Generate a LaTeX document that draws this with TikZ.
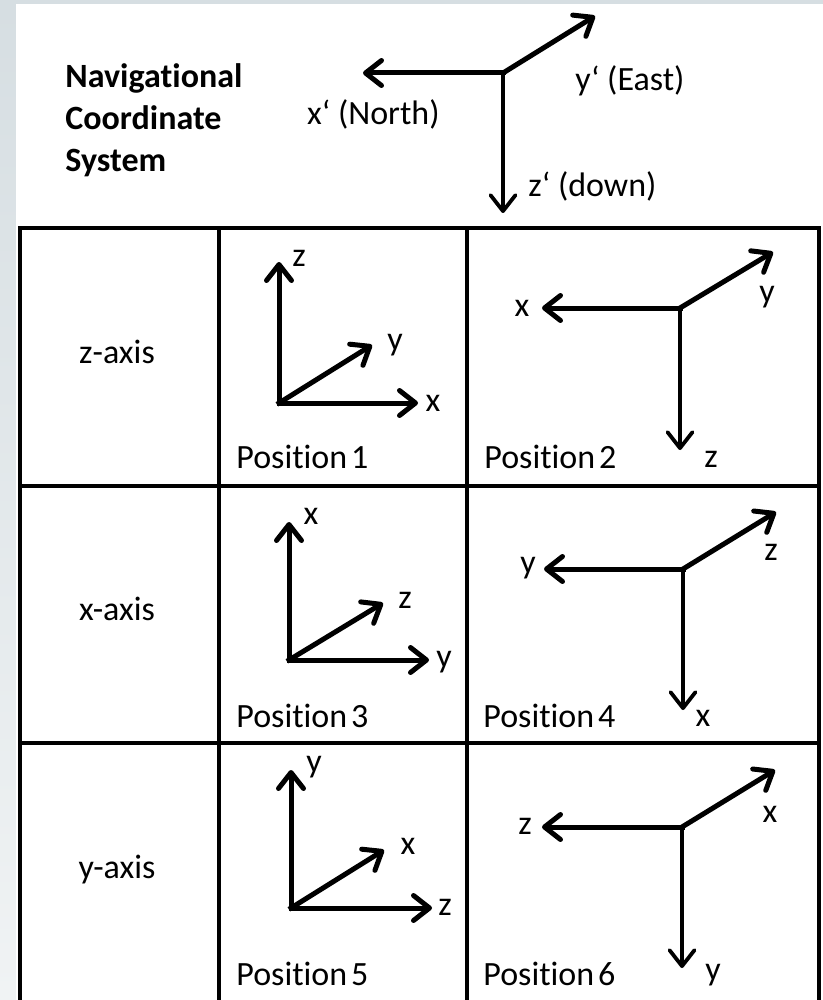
\documentclass[tikz,border=0pt]{standalone}
\usepackage{fontspec}
\setmainfont{Carlito}[Ligatures={NoCommon}]
\usetikzlibrary{arrows.meta}
\definecolor{bgtop}{RGB}{214,222,226}
\definecolor{bgbot}{RGB}{240,243,244}
\begin{document}
\begin{tikzpicture}[x=0.5pt,y=-0.5pt,
  ax/.style={line width=2.5pt, line cap=rect, -{Straight Barb[length=8pt,width=12.5pt,round]}},
  axd/.style={ax, line width=1.9pt},
  lbl/.style={font=\fontsize{17}{20}\selectfont, inner sep=0pt},
  hdr/.style={font=\bfseries\fontsize{17}{20}\selectfont, inner sep=0pt, anchor=base west},
  gridline/.style={line width=1.8pt}]
\useasboundingbox (0,0) rectangle (823,1000);
\shade[top color=bgtop, bottom color=bgbot] (0,0) rectangle (823,1000);
\fill[white] (16,4) rectangle (823,1000);

% header text
\node[hdr] (nav1) at (65,88) {Navigational};
\node[hdr] (nav2) at (65,130) {Coordinate};
\node[hdr] (nav3) at (65,172) {System};

% navigational frame
\coordinate (O) at (503,73);
\coordinate (Nx) at (363,73);
\coordinate (Ny) at (595,16);
\coordinate (Nz) at (503,213);
\draw[ax] (O) -- (Nx);
\draw[ax] (O) -- (Ny);
\draw[axd] (O) -- (Nz);
\node[lbl, anchor=base east] (lNx) at (440,125) {x‘ (North)};
\node[lbl, anchor=base west] (lNy) at (575,91) {y‘ (East)};
\node[lbl, anchor=base west] (lNz) at (528,197) {z‘ (down)};

% table
\draw[gridline] (20,1002) -- (20,228) -- (819,228) -- (819,1002);
\draw[gridline] (20,486) -- (819,486);
\draw[gridline] (20,743) -- (819,743);
\draw[gridline, line width=2pt] (219,228) -- (219,1002);
\draw[gridline, line width=2pt] (467,228) -- (467,1002);

% row labels
\node[lbl, anchor=base] (r1) at (117,363) {z-axis};
\node[lbl, anchor=base] (r2) at (117,620) {x-axis};
\node[lbl, anchor=base] (r3) at (117,878) {y-axis};

% position labels
\node[lbl, anchor=base west] (p1) at (236,468) {Position\kern2pt 1};
\node[lbl, anchor=base west] (p2) at (484,468) {Position\kern2pt 2};
\node[lbl, anchor=base west] (p3) at (236,727) {Position\kern2pt 3};
\node[lbl, anchor=base west] (p4) at (483,727) {Position\kern2pt 4};
\node[lbl, anchor=base west] (p5) at (236,985) {Position\kern2pt 5};
\node[lbl, anchor=base west] (p6) at (483,985) {Position\kern2pt 6};

% Position 1
\coordinate (O1) at (279,403);
\coordinate (A1u) at (279,262);
\coordinate (A1r) at (418,403);
\coordinate (A1d) at (372,345);
\draw[ax] (O1) -- (A1u);
\draw[ax] (O1) -- (A1r);
\draw[ax] (O1) -- (A1d);
\node[lbl] (l1z) at (299,258) {z};
\node[lbl] (l1y) at (395,345) {y};
\node[lbl] (l1x) at (433,403) {x};

% Position 2
\coordinate (O2) at (680,308);
\coordinate (A2l) at (542,308);
\coordinate (A2d) at (773,252);
\coordinate (A2v) at (680,450);
\draw[ax] (O2) -- (A2l);
\draw[ax] (O2) -- (A2d);
\draw[axd] (O2) -- (A2v);
\node[lbl] (l2x) at (522,308) {x};
\node[lbl] (l2y) at (767,297) {y};
\node[lbl] (l2z) at (711,459) {z};

% Position 3
\coordinate (O3) at (289,660);
\coordinate (A3u) at (289,522);
\coordinate (A3r) at (429,660);
\coordinate (A3d) at (383,603);
\draw[ax] (O3) -- (A3u);
\draw[ax] (O3) -- (A3r);
\draw[ax] (O3) -- (A3d);
\node[lbl] (l3x) at (311,516) {x};
\node[lbl] (l3z) at (405,600) {z};
\node[lbl] (l3y) at (444,662) {y};

% Position 4
\coordinate (O4) at (683,569);
\coordinate (A4l) at (544,569);
\coordinate (A4d) at (776,512);
\coordinate (A4v) at (683,710);
\draw[ax] (O4) -- (A4l);
\draw[ax] (O4) -- (A4d);
\draw[axd] (O4) -- (A4v);
\node[lbl] (l4y) at (528,568) {y};
\node[lbl] (l4z) at (771,552) {z};
\node[lbl] (l4x) at (703,718) {x};

% Position 5
\coordinate (O5) at (291,908);
\coordinate (A5u) at (291,770);
\coordinate (A5r) at (432,908);
\coordinate (A5d) at (384,850);
\draw[ax] (O5) -- (A5u);
\draw[ax] (O5) -- (A5r);
\draw[ax] (O5) -- (A5d);
\node[lbl] (l5y) at (314,767) {y};
\node[lbl] (l5x) at (408,846) {x};
\node[lbl] (l5z) at (445,907) {z};

% Position 6
\coordinate (O6) at (682,827);
\coordinate (A6l) at (542,827);
\coordinate (A6d) at (775,770);
\coordinate (A6v) at (682,968);
\draw[ax] (O6) -- (A6l);
\draw[ax] (O6) -- (A6d);
\draw[axd] (O6) -- (A6v);
\node[lbl] (l6z) at (525,826) {z};
\node[lbl] (l6x) at (770,814) {x};
\node[lbl] (l6y) at (713,975) {y};
\end{tikzpicture}
\end{document}
